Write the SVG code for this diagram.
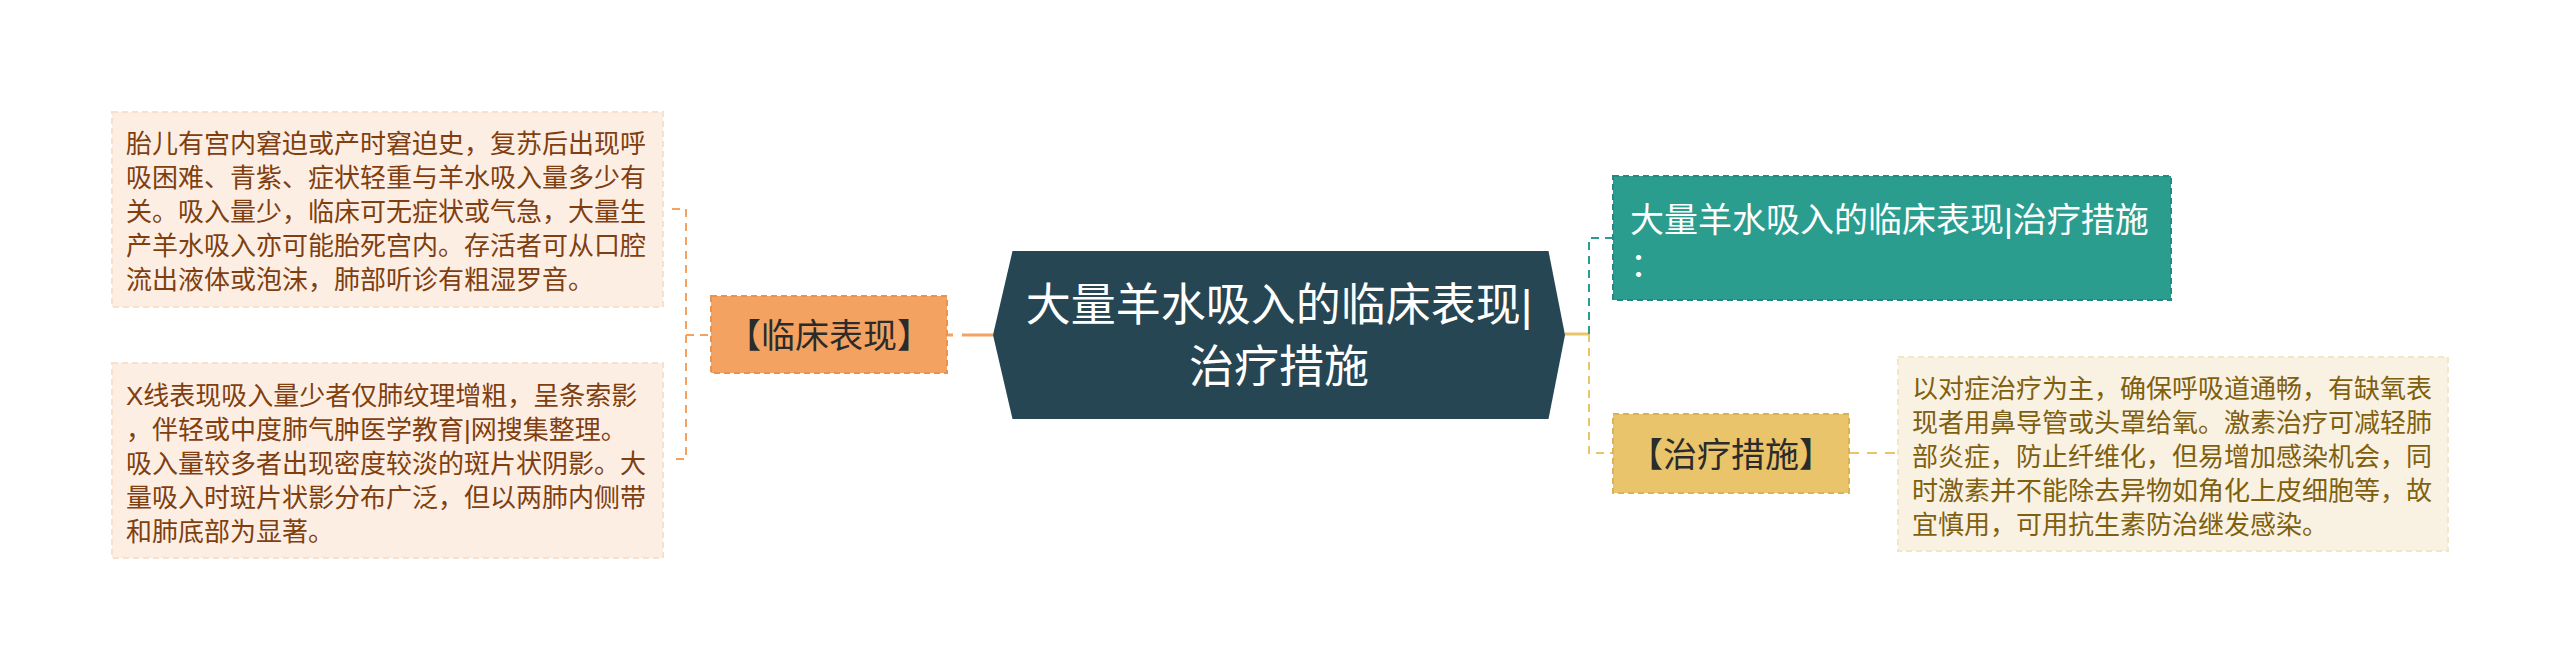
<svg xmlns="http://www.w3.org/2000/svg" width="2560" height="670" viewBox="0 0 2560 670">
<style>
text{font-family:"Liberation Sans","Noto Sans CJK SC",sans-serif;}
.leaf-o rect{fill:#fdeee4;stroke:#f8e0cf;stroke-width:2;stroke-dasharray:6 4;}
.leaf-o text{font-size:26px;fill:#7f3f10;}
.leaf-y rect{fill:#f9f2e3;stroke:#f1e6ca;stroke-width:2;stroke-dasharray:6 4;}
.leaf-y text{font-size:26px;fill:#80600f;}
.sub text{font-size:34px;}
.conn{fill:none;}
</style>
<rect width="2560" height="670" fill="#ffffff"/>
<g id="connectors" class="conn">
  <path d="M672,209 H686 V459 H672 M686,335 H710" stroke="#f4a261" stroke-width="2" stroke-dasharray="8 6"/>
  <path d="M993,335 H947" stroke="#f4a261" stroke-width="3" stroke-dasharray="31 9 6 0"/>
  <path d="M1565,334 H1589" stroke="#e9c46a" stroke-width="3"/>
  <path d="M1589,334 V238 H1612" stroke="#2a9d8f" stroke-width="2" stroke-dasharray="8 6"/>
  <path d="M1589,334 V453 H1612" stroke="#e9c46a" stroke-width="2" stroke-dasharray="8 6"/>
  <path d="M1849,453 H1898" stroke="#e9c46a" stroke-width="2" stroke-dasharray="10 8"/>
</g>
<g id="root">
  <polygon points="993,335 1012.5,251 1548.5,251 1565,335 1548.5,419 1012.5,419" fill="#264653"/>
  <text x="1279" y="321" font-size="45" fill="#ffffff" text-anchor="middle">大量羊水吸入的临床表现|</text>
  <text x="1279" y="383" font-size="45" fill="#ffffff" text-anchor="middle">治疗措施</text>
</g>
<g id="node-clinical" class="sub">
  <rect x="711" y="296" width="236" height="77" fill="#f4a261" stroke="#e8934f" stroke-width="2" stroke-dasharray="6 4"/>
  <text x="829" y="348" fill="#2b2b2b" text-anchor="middle">【临床表现】</text>
</g>
<g id="leaf-clinical-1" class="leaf-o">
  <rect x="112" y="112" width="551" height="195"/>
  <text x="126" y="153">胎儿有宫内窘迫或产时窘迫史，复苏后出现呼</text>
  <text x="126" y="187">吸困难、青紫、症状轻重与羊水吸入量多少有</text>
  <text x="126" y="221">关。吸入量少，临床可无症状或气急，大量生</text>
  <text x="126" y="255">产羊水吸入亦可能胎死宫内。存活者可从口腔</text>
  <text x="126" y="289">流出液体或泡沫，肺部听诊有粗湿罗音。</text>
</g>
<g id="leaf-clinical-2" class="leaf-o">
  <rect x="112" y="363" width="551" height="195"/>
  <text x="126" y="405">X线表现吸入量少者仅肺纹理增粗，呈条索影</text>
  <text x="126" y="439">，伴轻或中度肺气肿医学教育|网搜集整理。</text>
  <text x="126" y="473">吸入量较多者出现密度较淡的斑片状阴影。大</text>
  <text x="126" y="507">量吸入时斑片状影分布广泛，但以两肺内侧带</text>
  <text x="126" y="541">和肺底部为显著。</text>
</g>
<g id="node-title" class="sub">
  <rect x="1613" y="176" width="558" height="124" fill="#2a9d8f" stroke="#25897d" stroke-width="2" stroke-dasharray="6 4"/>
  <text x="1630" y="232" fill="#ffffff">大量羊水吸入的临床表现|治疗措施</text>
  <text x="1630" y="277" fill="#ffffff">：</text>
</g>
<g id="node-treatment" class="sub">
  <rect x="1613" y="414" width="236" height="79" fill="#e9c46a" stroke="#d9b358" stroke-width="2" stroke-dasharray="6 4"/>
  <text x="1731" y="467" fill="#2b2b2b" text-anchor="middle">【治疗措施】</text>
</g>
<g id="leaf-treatment" class="leaf-y">
  <rect x="1898" y="357" width="550" height="194"/>
  <text x="1912" y="398">以对症治疗为主，确保呼吸道通畅，有缺氧表</text>
  <text x="1912" y="432">现者用鼻导管或头罩给氧。激素治疗可减轻肺</text>
  <text x="1912" y="466">部炎症，防止纤维化，但易增加感染机会，同</text>
  <text x="1912" y="500">时激素并不能除去异物如角化上皮细胞等，故</text>
  <text x="1912" y="534">宜慎用，可用抗生素防治继发感染。</text>
</g>
</svg>
